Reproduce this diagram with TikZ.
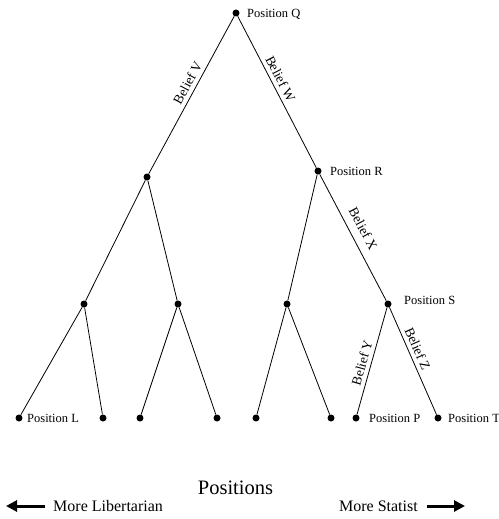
\documentclass[tikz,border=0pt]{standalone}
\usepackage{fontspec}
\setmainfont{Liberation Serif}
\usetikzlibrary{arrows.meta}
\tikzset{
  dot/.style={circle,fill=black,inner sep=0pt,minimum size=7pt},
  edge/.style={line width=0.8pt,black},
  poslbl/.style={anchor=base west,inner sep=0pt,font=\fontsize{12.5}{14}\selectfont},
  belief/.style={sloped,above=3pt,inner sep=1pt,font=\fontsize{13.5}{15}\selectfont},
  bigarrow/.style={line width=3pt,-{Triangle[length=11pt,width=11pt]}},
}
\begin{document}
\begin{tikzpicture}[x=1pt,y=-1pt]
\useasboundingbox (0,0) rectangle (498,519);
% tree nodes
\node[dot] (Q) at (236,13) {};
\node[dot] (A) at (147,177) {};
\node[dot] (R) at (318,171) {};
\node[dot] (B1) at (84,304) {};
\node[dot] (B2) at (178,304) {};
\node[dot] (B3) at (287,304) {};
\node[dot] (S) at (388,304) {};
\node[dot] (L) at (19,418) {};
\node[dot] (C2) at (103,418) {};
\node[dot] (C3) at (140,418) {};
\node[dot] (C4) at (217,418) {};
\node[dot] (C5) at (256,418) {};
\node[dot] (C6) at (331,418) {};
\node[dot] (P) at (356,418) {};
\node[dot] (T) at (438,418) {};
% edges
\draw[edge] (A) -- (Q) node[belief,pos=0.55] (bV) {Belief V};
\draw[edge] (Q) -- (R) node[belief,pos=0.44] (bW) {Belief W};
\draw[edge] (R) -- (S) node[belief,pos=0.48,above=4pt] (bX) {Belief X};
\draw[edge] (P) -- (S) node[belief,pos=0.46] (bY) {Belief Y};
\draw[edge] (S) -- (T) node[belief,pos=0.42] (bZ) {Belief Z};
\draw[edge] (A) -- (B1);
\draw[edge] (A) -- (B2);
\draw[edge] (R) -- (B3);
\draw[edge] (B1) -- (L);
\draw[edge] (B1) -- (C2);
\draw[edge] (B2) -- (C3);
\draw[edge] (B2) -- (C4);
\draw[edge] (B3) -- (C5);
\draw[edge] (B3) -- (C6);
% position labels
\node[poslbl] (lQ) at (247,17.5) {Position Q};
\node[poslbl] (lR) at (330,175.5) {Position R};
\node[poslbl] (lS) at (404,304) {Position S};
\node[poslbl] (lL) at (27,422) {Position L};
\node[poslbl] (lP) at (369,422) {Position P};
\node[poslbl] (lT) at (448,422) {Position T};
% bottom
\node[anchor=base,inner sep=0pt,font=\fontsize{20.5}{24}\selectfont] (pos) at (235.5,494) {Positions};
\node[anchor=base west,inner sep=0pt,font=\fontsize{16}{19}\selectfont] (lib) at (53,511.5) {More Libertarian};
\node[anchor=base east,inner sep=0pt,font=\fontsize{16}{19}\selectfont] (stat) at (418,511.5) {More Statist};
\coordinate (libtail) at (45,506);
\coordinate (libtip) at (6,506);
\coordinate (stattail) at (427,506);
\coordinate (stattip) at (465,506);
\draw[bigarrow] (libtail) -- (libtip);
\draw[bigarrow] (stattail) -- (stattip);
\end{tikzpicture}
\end{document}
